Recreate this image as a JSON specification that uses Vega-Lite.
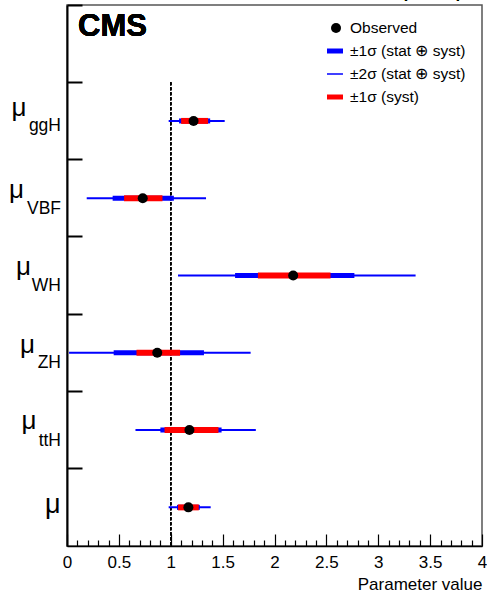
{
  "$schema": "https://vega.github.io/schema/vega-lite/v6.json",
  "width": 415,
  "height": 541,
  "autosize": {"type": "none"},
  "padding": {"left": 67, "top": 5, "right": 5, "bottom": 46},
  "config": {
    "font": "Liberation Sans",
    "view": {"stroke": "#555555", "strokeWidth": 1.5},
    "axis": {"grid": false, "domainColor": "black", "tickColor": "black", "labelColor": "black", "titleColor": "black"}
  },
  "resolve": {"scale": {"y": "independent"}, "axis": {"x": "independent"}},
  "layer": [
    {
      "data": {
        "values": [
          {"param": "ggH", "sub": "ggH", "mu": 1.22, "lo2": 0.98, "hi2": 1.52, "lo1": 1.08, "hi1": 1.38, "los": 1.10, "his": 1.36},
          {"param": "VBF", "sub": "VBF", "mu": 0.73, "lo2": 0.19, "hi2": 1.34, "lo1": 0.44, "hi1": 1.03, "los": 0.55, "his": 0.92},
          {"param": "WH", "sub": "WH", "mu": 2.18, "lo2": 1.07, "hi2": 3.36, "lo1": 1.62, "hi1": 2.77, "los": 1.84, "his": 2.54},
          {"param": "ZH", "sub": "ZH", "mu": 0.87, "lo2": 0.02, "hi2": 1.77, "lo1": 0.45, "hi1": 1.32, "los": 0.67, "his": 1.09},
          {"param": "ttH", "sub": "ttH", "mu": 1.18, "lo2": 0.66, "hi2": 1.82, "lo1": 0.90, "hi1": 1.49, "los": 0.94, "his": 1.46},
          {"param": "all", "sub": "", "mu": 1.17, "lo2": 0.98, "hi2": 1.385, "lo1": 1.06, "hi1": 1.28, "los": 1.07, "his": 1.27}
        ]
      },
      "resolve": {"axis": {"x": "independent"}},
      "encoding": {
        "y": {
          "field": "param", "type": "nominal",
          "scale": {"type": "band", "domain": [" ", "ggH", "VBF", "WH", "ZH", "ttH", "all"], "paddingInner": 0, "paddingOuter": 0},
          "axis": {"labels": false, "title": null, "bandPosition": 0, "tickSize": -15, "tickWidth": 2, "domainWidth": 2}
        }
      },
      "layer": [
        {
          "mark": {"type": "rule", "strokeDash": [3, 2], "strokeWidth": 1.3, "color": "black"},
          "encoding": {
            "x": {"datum": 1, "axis": null},
            "y": {"datum": "ggH", "bandPosition": 0},
            "y2": {"datum": "all", "bandPosition": 1}
          }
        },
        {
          "mark": {"type": "rule", "strokeWidth": 2, "strokeCap": "butt", "color": "#0000ff"},
          "encoding": {
            "x": {
              "field": "lo2", "type": "quantitative",
              "scale": {"domain": [0, 4], "nice": false, "zero": false},
              "axis": {
                "orient": "bottom",
                "title": "Parameter value",
                "titleFontSize": 17, "titleFontWeight": "normal", "titleAlign": "right", "titleAnchor": "end",
                "titleBaseline": "alphabetic", "titleX": 415, "titleY": 43,
                "values": [0, 0.5, 1, 1.5, 2, 2.5, 3, 3.5, 4],
                "format": "~g",
                "labelFontSize": 17, "labelPadding": 20, "labelFlush": false, "labelOverlap": false,
                "tickSize": -12, "tickWidth": 1.2, "domainWidth": 1.5
              }
            },
            "x2": {"field": "hi2"}
          }
        },
        {
          "mark": {"type": "rule", "strokeWidth": 5, "strokeCap": "butt", "color": "#0000ff"},
          "encoding": {
            "x": {
              "field": "lo1", "type": "quantitative",
              "axis": {
                "orient": "bottom", "title": null, "labels": false, "domain": false,
                "values": [0.1, 0.2, 0.3, 0.4, 0.6, 0.7, 0.8, 0.9, 1.1, 1.2, 1.3, 1.4, 1.6, 1.7, 1.8, 1.9, 2.1, 2.2, 2.3, 2.4, 2.6, 2.7, 2.8, 2.9, 3.1, 3.2, 3.3, 3.4, 3.6, 3.7, 3.8, 3.9],
                "tickSize": -6, "tickWidth": 1.2
              }
            },
            "x2": {"field": "hi1"}
          }
        },
        {
          "mark": {"type": "rule", "strokeWidth": 6, "strokeCap": "butt", "color": "#ff0000"},
          "encoding": {
            "x": {"field": "los", "type": "quantitative", "axis": null},
            "x2": {"field": "his"}
          }
        },
        {
          "mark": {"type": "point", "filled": true, "size": 100, "opacity": 1, "color": "black"},
          "encoding": {
            "x": {"field": "mu", "type": "quantitative", "axis": null}
          }
        },
        {
          "transform": [{"filter": "datum.param !== 'ggH'"}],
          "mark": {"type": "text", "align": "right", "baseline": "alphabetic", "dx": -6, "dy": 15.5, "fontSize": 17.5, "color": "black"},
          "encoding": {"x": {"datum": 0, "axis": null}, "text": {"field": "sub"}}
        },
        {
          "transform": [{"filter": "datum.param === 'ggH'"}],
          "mark": {"type": "text", "align": "right", "baseline": "alphabetic", "dx": -6, "dy": 10.5, "fontSize": 17.5, "color": "black"},
          "encoding": {"x": {"datum": 0, "axis": null}, "text": {"field": "sub"}}
        },
        {
          "transform": [{"filter": "datum.param === 'ggH'"}],
          "mark": {"type": "text", "align": "right", "baseline": "alphabetic", "dx": -40.5, "dy": -4.7, "fontSize": 26, "color": "black"},
          "encoding": {"x": {"datum": 0, "axis": null}, "text": {"value": "μ"}}
        },
        {
          "transform": [{"filter": "datum.param === 'VBF'"}],
          "mark": {"type": "text", "align": "right", "baseline": "alphabetic", "dx": -43, "dy": 0, "fontSize": 26, "color": "black"},
          "encoding": {"x": {"datum": 0, "axis": null}, "text": {"value": "μ"}}
        },
        {
          "transform": [{"filter": "datum.param === 'WH'"}],
          "mark": {"type": "text", "align": "right", "baseline": "alphabetic", "dx": -36, "dy": -0.5, "fontSize": 26, "color": "black"},
          "encoding": {"x": {"datum": 0, "axis": null}, "text": {"value": "μ"}}
        },
        {
          "transform": [{"filter": "datum.param === 'ZH'"}],
          "mark": {"type": "text", "align": "right", "baseline": "alphabetic", "dx": -32, "dy": -0.2, "fontSize": 26, "color": "black"},
          "encoding": {"x": {"datum": 0, "axis": null}, "text": {"value": "μ"}}
        },
        {
          "transform": [{"filter": "datum.param === 'ttH'"}],
          "mark": {"type": "text", "align": "right", "baseline": "alphabetic", "dx": -30.5, "dy": -0.9, "fontSize": 26, "color": "black"},
          "encoding": {"x": {"datum": 0, "axis": null}, "text": {"value": "μ"}}
        },
        {
          "transform": [{"filter": "datum.param === 'all'"}],
          "mark": {"type": "text", "align": "right", "baseline": "alphabetic", "dx": -6.5, "dy": 5.6, "fontSize": 27, "color": "black"},
          "encoding": {"x": {"datum": 0, "axis": null}, "text": {"value": "μ"}}
        },
        {
          "mark": {"type": "text", "align": "left", "baseline": "alphabetic", "dx": 11, "dy": -7.6, "fontSize": 31, "fontWeight": "bold", "color": "black"},
          "encoding": {"x": {"datum": 0, "axis": null}, "y": {"datum": " "}, "text": {"value": "CMS"}}
        },
        {
          "mark": {"type": "text", "align": "right", "baseline": "alphabetic", "dx": -20, "dy": -46, "fontSize": 16, "color": "black"},
          "encoding": {"x": {"datum": 4, "axis": null}, "y": {"datum": " "}, "text": {"value": "35.9 fb⁻¹ (13 TeV)"}}
        }
      ]
    },
    {
      "data": {
        "values": [
          {"label": "Observed", "kind": "dot"},
          {"label": "±1σ (stat ⊕ syst)", "kind": "band1"},
          {"label": "±2σ (stat ⊕ syst)", "kind": "band2"},
          {"label": "±1σ (syst)", "kind": "syst"}
        ]
      },
      "encoding": {
        "y": {
          "field": "label", "type": "nominal",
          "scale": {"type": "point", "domain": ["Observed", "±1σ (stat ⊕ syst)", "±2σ (stat ⊕ syst)", "±1σ (syst)"], "range": [23, 92], "padding": 0},
          "axis": null
        }
      },
      "layer": [
        {
          "transform": [{"filter": "datum.kind === 'dot'"}],
          "mark": {"type": "point", "filled": true, "size": 100, "opacity": 1, "color": "black"},
          "encoding": {"x": {"datum": 2.593, "axis": null}}
        },
        {
          "transform": [{"filter": "datum.kind === 'band1'"}],
          "mark": {"type": "rule", "strokeWidth": 5, "strokeCap": "butt", "color": "#0000ff"},
          "encoding": {"x": {"datum": 2.506, "axis": null}, "x2": {"datum": 2.66}}
        },
        {
          "transform": [{"filter": "datum.kind === 'band2'"}],
          "mark": {"type": "rule", "strokeWidth": 1.5, "strokeCap": "butt", "color": "#0000ff"},
          "encoding": {"x": {"datum": 2.506, "axis": null}, "x2": {"datum": 2.66}}
        },
        {
          "transform": [{"filter": "datum.kind === 'syst'"}],
          "mark": {"type": "rule", "strokeWidth": 5, "strokeCap": "butt", "color": "#ff0000"},
          "encoding": {"x": {"datum": 2.506, "axis": null}, "x2": {"datum": 2.66}}
        },
        {
          "mark": {"type": "text", "align": "left", "baseline": "middle", "fontSize": 15.5, "color": "black"},
          "encoding": {"x": {"datum": 2.728, "axis": null}, "text": {"field": "label"}}
        }
      ]
    }
  ]
}
